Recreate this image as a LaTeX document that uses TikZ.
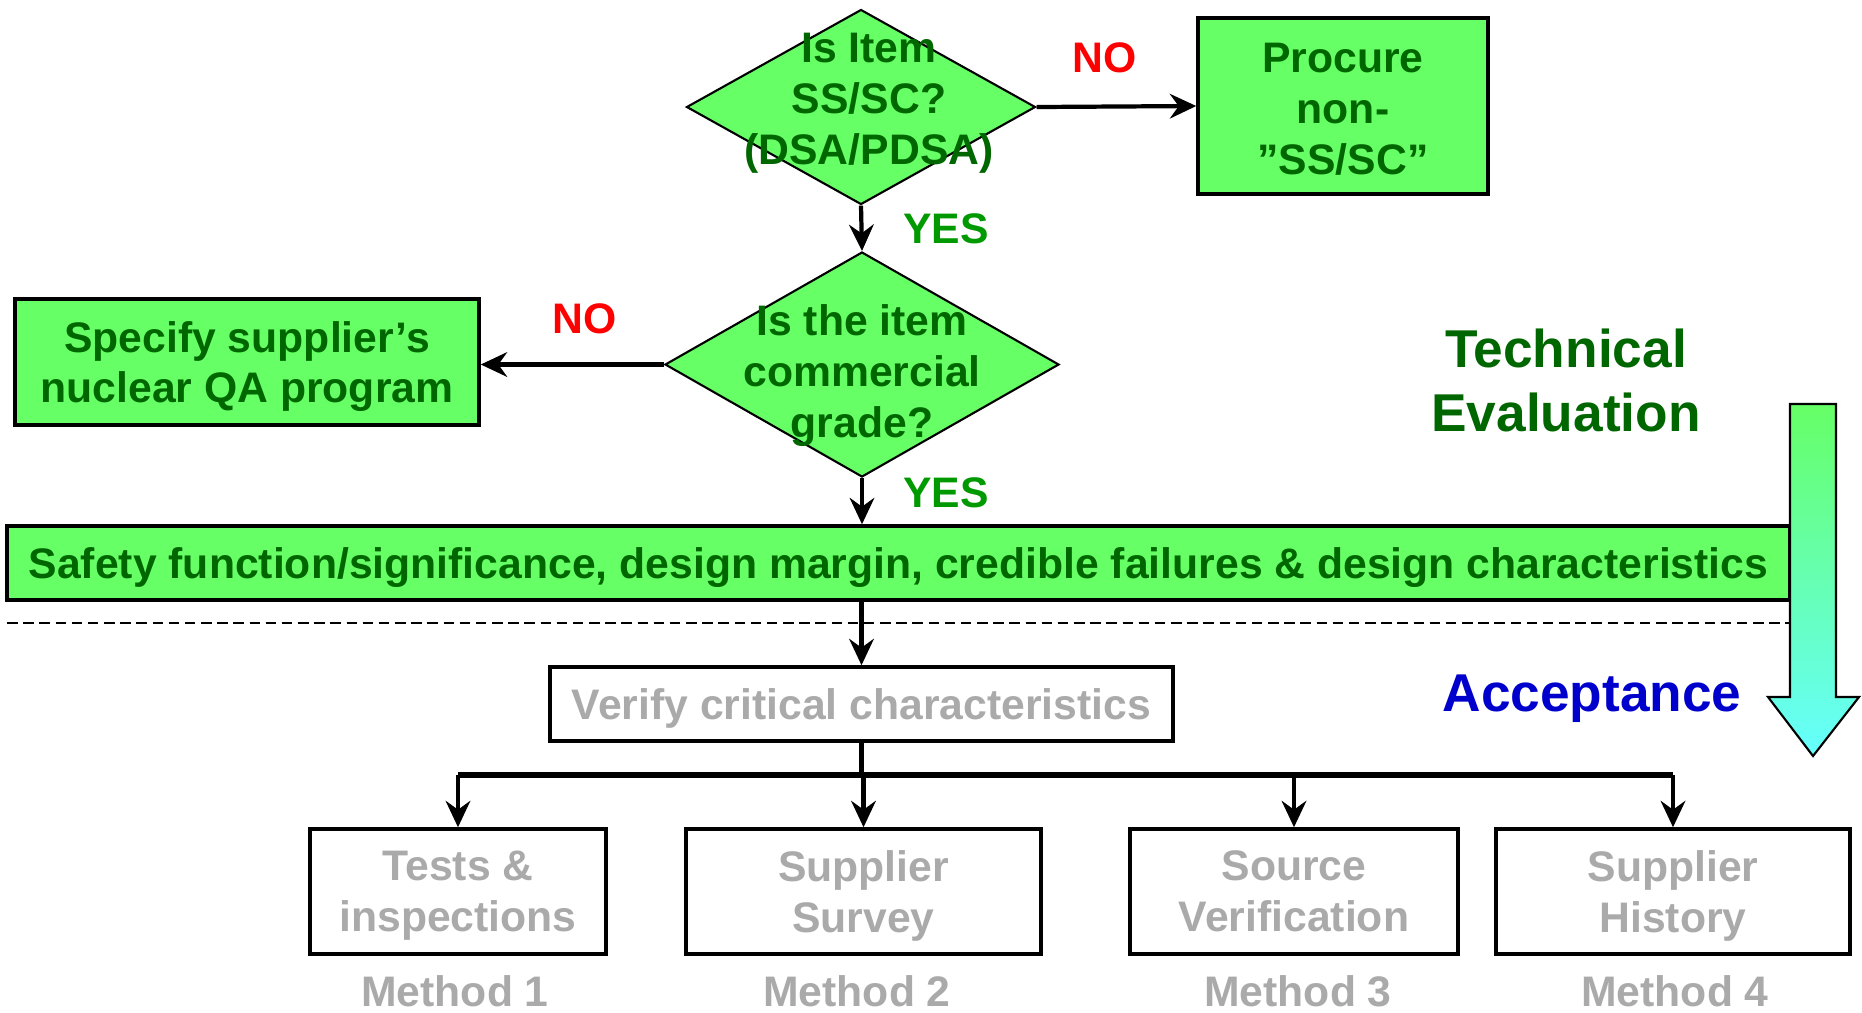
\documentclass[tikz,border=0pt]{standalone}
\usepackage{fontspec}
\setmainfont{Liberation Sans}
\usetikzlibrary{shapes.geometric,arrows.meta}
\definecolor{boxgreen}{RGB}{102,255,102}
\definecolor{textgreen}{RGB}{0,102,0}
\definecolor{yesgreen}{RGB}{0,153,0}
\definecolor{methodgray}{RGB}{170,170,170}
\definecolor{acceptblue}{RGB}{0,0,204}
\definecolor{arrowcyan}{RGB}{102,255,255}
\begin{document}
\begin{tikzpicture}[
    >={Stealth[length=7.5pt,width=7pt,inset=2.5pt]},
    conn/.style={->, line width=1.2pt},
    bus/.style={line width=1.5pt},
    txt/.style={font=\bfseries\fontsize{12.15}{14.5}\selectfont, align=center},
    bigtxt/.style={font=\bfseries\fontsize{15.15}{18.2}\selectfont, align=center},
    greenbox/.style={txt, text depth=0pt, draw, line width=1pt, fill=boxgreen, text=textgreen, inner sep=0pt},
    graybox/.style={txt, text depth=0pt, draw, line width=1pt, fill=white, text=methodgray, inner sep=0pt},
    decision/.style={diamond, draw, line width=0.6pt, fill=boxgreen, inner sep=0pt},
    dtext/.style={txt, text=textgreen},
    nolabel/.style={txt, text=red},
    yeslabel/.style={txt, text=yesgreen},
    methodlabel/.style={txt, text=methodgray, inner sep=0pt}]
  \useasboundingbox (0,0) rectangle (18.62,-10.12);
  % decisions
  \node[decision, minimum width=3.49cm, minimum height=1.95cm] at (8.61,-1.07) (q1) {};
  \node[dtext] at (8.69,-1.03) (q1text) {Is Item\\SS/SC?\\(DSA/PDSA)};
  \node[decision, minimum width=3.94cm, minimum height=2.25cm] at (8.62,-3.645) (q2) {};
  \node[dtext] at (8.62,-3.755) (q2text) {Is the item\\commercial\\grade?};
  % green boxes
  \node[greenbox, text height=38.7pt, minimum width=2.90cm, minimum height=1.76cm] at (13.43,-1.06) (procure) {Procure\\non-\\”SS/SC”};
  \node[greenbox, minimum width=4.64cm, minimum height=1.26cm] at (2.47,-3.62) (specify) {Specify supplier’s\\nuclear QA program};
  \node[greenbox, minimum width=17.83cm, minimum height=0.74cm] at (8.985,-5.63) (safety) {Safety function/significance, design margin, credible failures \& design characteristics};
  % acceptance part
  \node[graybox, minimum width=6.23cm, minimum height=0.74cm] at (8.615,-7.04) (verify) {Verify critical characteristics};
  \node[graybox, minimum width=2.96cm, minimum height=1.25cm] at (4.58,-8.915) (m1) {Tests \&\\inspections};
  \node[graybox, minimum width=3.55cm, minimum height=1.25cm] at (8.635,-8.915) (m2) {Supplier\\Survey};
  \node[graybox, minimum width=3.28cm, minimum height=1.25cm] at (12.94,-8.915) (m3) {Source\\Verification};
  \node[graybox, minimum width=3.54cm, minimum height=1.25cm] at (16.73,-8.915) (m4) {Supplier\\History};
  \node[methodlabel] at (4.55,-9.91) (l1) {Method 1};
  \node[methodlabel] at (8.57,-9.91) (l2) {Method 2};
  \node[methodlabel] at (12.98,-9.91) (l3) {Method 3};
  \node[methodlabel] at (16.75,-9.91) (l4) {Method 4};
  % labels
  \node[nolabel] at (11.05,-0.58) (no1) {NO};
  \node[yeslabel] at (9.46,-2.29) (yes1) {YES};
  \node[nolabel] at (5.85,-3.19) (no2) {NO};
  \node[yeslabel] at (9.46,-4.93) (yes2) {YES};
  \node[bigtxt, text=textgreen] at (15.66,-3.80) (techeval) {Technical\\Evaluation};
  \node[bigtxt, text=acceptblue] at (15.92,-6.99) (accept) {Acceptance};
  % dashed divider and big arrow
  \coordinate (dashL) at (0.07,-6.23);
  \coordinate (dashR) at (17.90,-6.23);
  \draw[dashed, dash pattern=on 3pt off 1.6pt, line width=0.6pt] (dashL) -- (dashR);
  \shade[top color=boxgreen, bottom color=arrowcyan, draw=black, line width=0.6pt]
    (17.90,-4.04) -- (18.36,-4.04) -- (18.36,-6.97) -- (18.59,-6.97) -- (18.13,-7.56)
    -- (17.68,-6.97) -- (17.90,-6.97) -- cycle;
  % arrows between nodes
  \draw[conn] (q1.east) -- (procure.west);
  \draw[conn] (q1.south) -- (q2.north);
  \draw[conn] (q2.west) -- (q2.west -| specify.east);
  \draw[conn] (q2.south) -- (q2.south |- safety.north);
  \draw[conn] (safety.south -| verify.north) -- (verify.north);
  \coordinate (split) at (8.615,-7.75);
  \draw[line width=1.2pt] (verify.south) -- (split);
  \draw[bus] (split -| m1) -- (split -| m4);
  \foreach \m in {m1,m2,m3,m4}
    \draw[conn] (split -| \m) -- (\m.north);
\end{tikzpicture}
\end{document}
